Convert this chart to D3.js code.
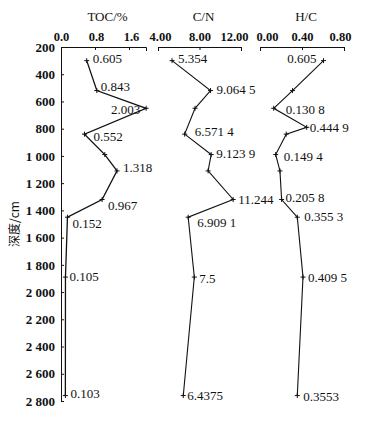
<!DOCTYPE html>
<html>
<head>
<meta charset="utf-8">
<script src="https://cdn.jsdelivr.net/npm/d3@7"></script>
<style>
  body { margin: 0; background: #fff; }
  svg { display: block; font-family: "Liberation Serif", "DejaVu Serif", serif; }
  .axis path, .axis line { stroke: #111; stroke-width: 1; }
  .axis text { font-size: 13px; font-weight: bold; fill: #111; font-family: "Liberation Serif", serif; }
  .top text { font-size: 12.5px; }
  .val { font-size: 13px; fill: #111; }
</style>
</head>
<body>
<div id="chart"></div>
<script>
// sample depths (cm)
var depthMain = [300, 520, 650, 840, 990, 1110, 1320, 1450, 1890, 2760];
var depthHC = [300, 520, 650, 790, 840, 990, 1110, 1320, 1450, 1890, 2760];

// TOC / %
var tocValues = [0.605, 0.843, 2.003, 0.552, 1.03, 1.318, 0.967, 0.152, 0.105, 0.103];
var tocLabels = ["0.605", "0.843", "2.003", "0.552", null, "1.318", "0.967", "0.152", "0.105", "0.103"];

// C/N
var cnValues = [5.354, 9.0645, 7.57, 6.5714, 9.1239, 8.83, 11.244, 6.9091, 7.5, 6.4375];
var cnLabels = ["5.354", "9.064 5", null, "6.571 4", "9.123 9", null, "11.244", "6.909 1", "7.5", "6.4375"];

// H/C
var hcValues = [0.605, 0.31, 0.1308, 0.4449, 0.25, 0.1494, 0.19, 0.2058, 0.3553, 0.4095, 0.3553];
var hcLabels = ["0.605", null, "0.130 8", "0.444 9", null, "0.149 4", null, "0.205 8", "0.355 3", "0.409 5", "0.3553"];

var depthTicks = [200, 400, 600, 800, 1000, 1200, 1400, 1600, 1800, 2000, 2200, 2400, 2600, 2800];
var tocTicks = [0, 0.8, 1.6];
var cnTicks = [4, 8, 12];
var hcTicks = [0, 0.4, 0.8];

// label placement [dx, dy, anchor]
var tocPos = [[6,-2],[4,-4],[-6,1,"end"],[9,2],null,[6,-3],[6,6],[5,6],[4,-1],[5,-2]];
var cnPos = [[6,-2],[6,-1],null,[10,-3],[5,-1],null,[5,0],[9,5],[5,1],[4,0]];
var hcPos = [[-7,-2,"end"],null,[12,1],[3,0],null,[8,2],null,[4,-2],[7,-1],[5,0],[6,1]];

var width = 391, height = 421;

var svg = d3.select("#chart").append("svg")
  .attr("width", width)
  .attr("height", height);

var y = d3.scaleLinear().domain([200, 2800]).range([47, 401]);

var spaceFmt = d3.formatLocale({ decimal: ".", thousands: " ", grouping: [3], currency: ["", ""] }).format(",");

// depth axis
svg.append("g")
  .attr("class", "axis")
  .attr("transform", "translate(61,0)")
  .call(d3.axisLeft(y).tickValues(depthTicks).tickFormat(spaceFmt).tickSize(-3).tickSizeOuter(-3).tickPadding(6));

svg.append("text")
  .attr("transform", "translate(19,224) rotate(-90)")
  .attr("text-anchor", "middle")
  .attr("font-family", "'Noto Sans CJK SC', sans-serif")
  .attr("font-size", "12px")
  .attr("fill", "#111")
  .text("深度/cm");

var panels = [
  { title: "TOC/%", domain: [0, 2], range: [61, 146], ticks: tocTicks, fmt: d3.format(".1f"), shift: [0, 1, 2],
    values: tocValues, depths: depthMain, labels: tocLabels, pos: tocPos, sw: 1.3 },
  { title: "C/N", domain: [4, 12], range: [158, 241], ticks: cnTicks, fmt: d3.format(".2f"), shift: [2, 0, -7],
    values: cnValues, depths: depthMain, labels: cnLabels, pos: cnPos, sw: 1.1 },
  { title: "H/C", domain: [0, 0.8], range: [260, 344], ticks: hcTicks, fmt: d3.format(".2f"), shift: [7, 0, -4],
    values: hcValues, depths: depthHC, labels: hcLabels, pos: hcPos, sw: 1.1 }
];

panels.forEach(function(p) {
  var x = d3.scaleLinear().domain(p.domain).range(p.range);

  var ax = svg.append("g")
    .attr("class", "axis top")
    .attr("transform", "translate(0,47)")
    .call(d3.axisTop(x).tickValues(p.ticks).tickFormat(p.fmt).tickSize(-3).tickSizeOuter(-4).tickPadding(6));
  ax.selectAll(".tick text").attr("dx", function(d, i) { return p.shift[i]; });

  svg.append("text")
    .attr("x", (p.range[0] + p.range[1]) / 2 + 4)
    .attr("y", 21)
    .attr("text-anchor", "middle")
    .attr("font-size", "13px")
    .attr("fill", "#111")
    .text(p.title);

  var pts = p.values.map(function(v, i) {
    return { v: v, d: p.depths[i], label: p.labels[i], pos: p.pos[i] };
  });

  var line = d3.line()
    .x(function(d) { return x(d.v); })
    .y(function(d) { return y(d.d); });

  svg.append("path")
    .datum(pts)
    .attr("d", line)
    .attr("fill", "none")
    .attr("stroke", "#111")
    .attr("stroke-width", p.sw);

  svg.selectAll(null)
    .data(pts)
    .enter()
    .append("path")
    .attr("transform", function(d) { return "translate(" + x(d.v) + "," + y(d.d) + ")"; })
    .attr("d", "M-2.5,0H2.5M0,-2.5V2.5")
    .attr("stroke", "#111")
    .attr("stroke-width", 1);

  svg.selectAll(null)
    .data(pts.filter(function(d) { return d.label; }))
    .enter()
    .append("text")
    .attr("class", "val")
    .attr("x", function(d) { return x(d.v) + d.pos[0]; })
    .attr("y", function(d) { return y(d.d) + d.pos[1]; })
    .attr("dy", "0.35em")
    .attr("text-anchor", function(d) { return d.pos[2] || "start"; })
    .text(function(d) { return d.label; });
});
</script>
</body>
</html>
